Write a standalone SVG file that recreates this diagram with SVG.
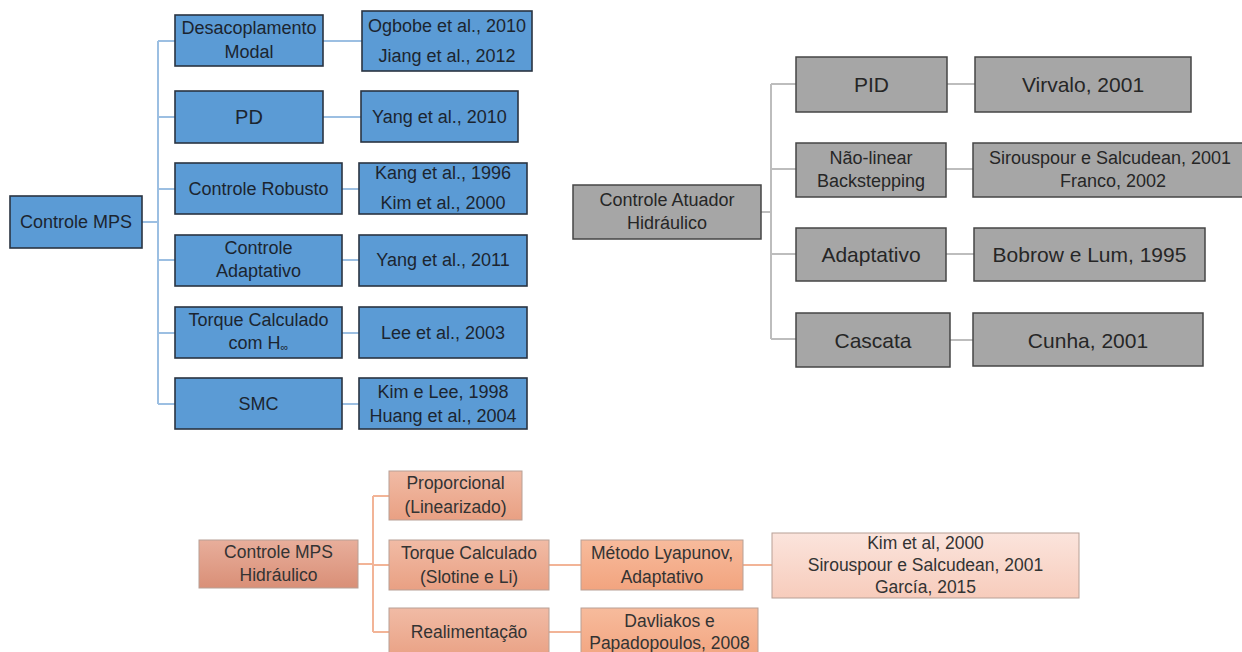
<svg xmlns="http://www.w3.org/2000/svg" width="1242" height="652" viewBox="0 0 1242 652">
<defs>
<linearGradient id="gOr" x1="0" y1="0" x2="0" y2="1"><stop offset="0" stop-color="#f1bba5"/><stop offset="1" stop-color="#e9a083"/></linearGradient>
<linearGradient id="gRoot" x1="0" y1="0" x2="0" y2="1"><stop offset="0" stop-color="#e8ae9b"/><stop offset="1" stop-color="#d98f77"/></linearGradient>
<linearGradient id="gMid" x1="0" y1="0" x2="0" y2="1"><stop offset="0" stop-color="#f7bb9c"/><stop offset="1" stop-color="#f2a47f"/></linearGradient>
<linearGradient id="gLight" x1="0" y1="0" x2="0" y2="1"><stop offset="0" stop-color="#fbe4dc"/><stop offset="1" stop-color="#f7ccbc"/></linearGradient>
</defs>
<style>
text{font-family:"Liberation Sans",Arial,sans-serif;text-anchor:middle;dominant-baseline:central;}
.b rect{fill:#5b9bd5;stroke:#2a3441;stroke-width:1.6;}
.b text{font-size:18px;fill:#1b2530;}
.g rect{fill:#a6a6a6;stroke:#454545;stroke-width:1.5;}
.g text{font-size:18px;fill:#262626;}
.g text.big{font-size:21px;}
.o rect{stroke:#b7a096;stroke-width:1;}
.o text{font-size:17.5px;fill:#333333;}
.cb{stroke:#9cbfe2;stroke-width:2;fill:none;}
.cg{stroke:#bdbdbd;stroke-width:2;fill:none;}
.co{stroke:#f2b497;stroke-width:2;fill:none;}
</style>
<rect width="1242" height="652" fill="#ffffff"/>
<g id="connectors">
<path class="cb" d="M142 222H158M158 41V404M158 41H175M158 117H175M158 189H175M158 260H175M158 333H175M158 404H175M323 41H362M323 117H361M342 189H359M342 260H359M342 333H359M342 404H359"/>
<path class="cg" d="M761 212H771M771 84V339M771 84H796M771 169H796M771 254H796M771 339H796M947 84H975M946 169H973M946 254H974M950 340H973"/>
<path class="co" d="M358 564H373M373 496V632M373 496H389M373 565H389M373 632H389M549 565H581M743 565H772M549 632H581"/>
</g>
<g id="b-root" class="b"><rect x="10" y="196" width="132" height="52"/><text x="76" y="222">Controle MPS</text></g>
<g id="b-desac" class="b"><rect x="175" y="15" width="148" height="51"/><text x="249" y="28">Desacoplamento</text><text x="249" y="52">Modal</text></g>
<g id="b-pd" class="b"><rect x="175" y="91" width="148" height="52"/><text x="249" y="117" style="font-size:20px">PD</text></g>
<g id="b-robusto" class="b"><rect x="175" y="163" width="167" height="51"/><text x="258.5" y="189">Controle Robusto</text></g>
<g id="b-adapt" class="b"><rect x="175" y="235" width="167" height="51"/><text x="258.5" y="248">Controle</text><text x="258.5" y="271">Adaptativo</text></g>
<g id="b-torque" class="b"><rect x="175" y="307" width="167" height="51"/><text x="258.5" y="320">Torque Calculado</text><text x="258.5" y="343">com H<tspan font-size="11" dy="4">∞</tspan></text></g>
<g id="b-smc" class="b"><rect x="175" y="378" width="167" height="51"/><text x="258.5" y="404">SMC</text></g>
<g id="b-ogbobe" class="b"><rect x="362" y="11" width="170" height="60"/><text x="447" y="26">Ogbobe et al., 2010</text><text x="447" y="56">Jiang et al., 2012</text></g>
<g id="b-yang2010" class="b"><rect x="361" y="91" width="157" height="51"/><text x="439.5" y="117">Yang et al., 2010</text></g>
<g id="b-kang" class="b"><rect x="359" y="163" width="168" height="51"/><text x="443" y="173">Kang et al., 1996</text><text x="443" y="203">Kim et al., 2000</text></g>
<g id="b-yang2011" class="b"><rect x="359" y="235" width="168" height="51"/><text x="443" y="260">Yang et al., 2011</text></g>
<g id="b-lee" class="b"><rect x="359" y="307" width="168" height="51"/><text x="443" y="333">Lee et al., 2003</text></g>
<g id="b-kimlee" class="b"><rect x="359" y="378" width="168" height="51"/><text x="443" y="392">Kim e Lee, 1998</text><text x="443" y="416">Huang et al., 2004</text></g>
<g id="g-root" class="g"><rect x="573" y="185" width="188" height="54"/><text x="667" y="200">Controle Atuador</text><text x="667" y="223">Hidráulico</text></g>
<g id="g-pid" class="g"><rect x="796" y="57" width="151" height="55"/><text class="big" x="871.5" y="84">PID</text></g>
<g id="g-naolinear" class="g"><rect x="796" y="143" width="150" height="54"/><text x="871" y="158">Não-linear</text><text x="871" y="181">Backstepping</text></g>
<g id="g-adapt" class="g"><rect x="796" y="228" width="150" height="53"/><text class="big" x="871" y="254">Adaptativo</text></g>
<g id="g-cascata" class="g"><rect x="796" y="313" width="154" height="54"/><text class="big" x="873" y="340">Cascata</text></g>
<g id="g-virvalo" class="g"><rect x="975" y="57" width="216" height="55"/><text class="big" x="1083" y="84">Virvalo, 2001</text></g>
<g id="g-sirouspour" class="g"><rect x="973" y="143" width="284" height="54"/><text x="1110" y="158">Sirouspour e Salcudean, 2001</text><text x="1113" y="181">Franco, 2002</text></g>
<g id="g-bobrow" class="g"><rect x="974" y="228" width="231" height="53"/><text class="big" x="1089.5" y="254">Bobrow e Lum, 1995</text></g>
<g id="g-cunha" class="g"><rect x="973" y="313" width="230" height="53"/><text class="big" x="1088" y="340">Cunha, 2001</text></g>
<g id="o-root" class="o"><rect x="199" y="540" width="159" height="48" fill="url(#gRoot)"/><text x="278.5" y="552">Controle MPS</text><text x="278.5" y="575">Hidráulico</text></g>
<g id="o-prop" class="o"><rect x="389" y="471" width="133" height="49" fill="url(#gOr)"/><text x="455.5" y="483">Proporcional</text><text x="455.5" y="507">(Linearizado)</text></g>
<g id="o-torque" class="o"><rect x="389" y="540" width="160" height="50" fill="url(#gOr)"/><text x="469" y="553">Torque Calculado</text><text x="469" y="577">(Slotine e Li)</text></g>
<g id="o-realim" class="o"><rect x="389" y="608" width="160" height="52" fill="url(#gOr)"/><text x="469" y="632">Realimentação</text></g>
<g id="o-metodo" class="o"><rect x="581" y="540" width="162" height="50" fill="url(#gMid)"/><text x="662" y="553">Método Lyapunov,</text><text x="662" y="577">Adaptativo</text></g>
<g id="o-kim" class="o"><rect x="772" y="533" width="307" height="65" fill="url(#gLight)"/><text x="925.5" y="543">Kim et al, 2000</text><text x="925.5" y="565">Sirouspour e Salcudean, 2001</text><text x="925.5" y="587">García, 2015</text></g>
<g id="o-davliakos" class="o"><rect x="581" y="608" width="177" height="52" fill="url(#gMid)"/><text x="669.5" y="621">Davliakos e</text><text x="669.5" y="643">Papadopoulos, 2008</text></g>
</svg>
